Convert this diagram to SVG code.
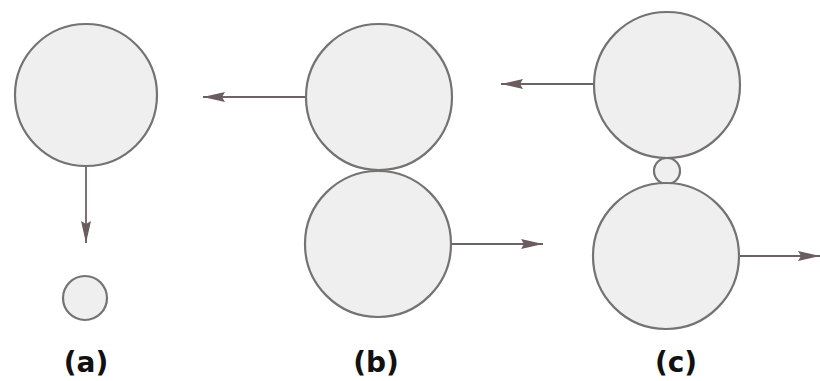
<svg xmlns="http://www.w3.org/2000/svg" width="820" height="381" viewBox="0 0 820 381">
<style>
.node{fill:#efefef;stroke:#757272;stroke-width:2.2}
.conn{stroke:#6e6264;stroke-width:1.8;fill:none}
.lbl{font-family:"DejaVu Sans","Liberation Sans",Arial,sans-serif;font-weight:bold;font-size:28px;fill:#111;text-anchor:middle}
</style>
<defs>
<marker id="ah" markerUnits="userSpaceOnUse" markerWidth="24" markerHeight="12" refX="22" refY="5" orient="auto">
<path d="M0,0 L22,5 L0,10 L3,5 Z" fill="#6a5c5f"/>
</marker>
</defs>
<rect width="820" height="381" fill="#fff"/>
<g id="connectors">
<line class="conn" x1="86" y1="167" x2="86" y2="243" marker-end="url(#ah)"/>
<line class="conn" x1="306" y1="97" x2="203" y2="97" marker-end="url(#ah)"/>
<line class="conn" x1="450" y1="244" x2="543" y2="244" marker-end="url(#ah)"/>
<line class="conn" x1="594" y1="84" x2="501" y2="84" marker-end="url(#ah)"/>
<line class="conn" x1="738" y1="256" x2="820" y2="256" marker-end="url(#ah)"/>
</g>
<g id="a-big"><circle class="node" cx="86" cy="95" r="71"/></g>
<g id="a-small"><circle class="node" cx="85" cy="298" r="22"/></g>
<g id="b-top"><circle class="node" cx="379" cy="97" r="73"/></g>
<g id="b-bottom"><circle class="node" cx="378" cy="244" r="73"/></g>
<g id="c-top"><circle class="node" cx="667" cy="85" r="73"/></g>
<g id="c-small"><circle class="node" cx="667" cy="171" r="13"/></g>
<g id="c-bottom"><circle class="node" cx="666" cy="256" r="73"/></g>
<g id="labels">
<text class="lbl" x="86" y="372">(a)</text>
<text class="lbl" x="376" y="372">(b)</text>
<text class="lbl" x="676" y="372">(c)</text>
</g>
</svg>
